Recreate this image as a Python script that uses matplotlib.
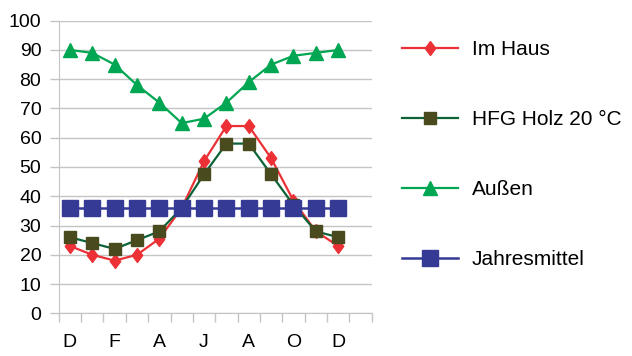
import matplotlib.pyplot as plt
import numpy as np

# Monate (Dezember bis Dezember)
monate = ['D', 'J', 'F', 'M', 'A', 'M', 'J', 'J', 'A', 'S', 'O', 'N', 'D']

# Relative Luftfeuchte (%)
im_haus = [23, 20, 18, 20, 25.5, 36, 52, 64, 64, 53, 38.5, 28, 23]
hfg_holz = [26, 24, 22, 25, 28, 36, 47.5, 58, 58, 47.5, 37, 28, 26]
aussen = [90, 89, 85, 78, 72, 65, 66.5, 72, 79, 85, 88, 89, 90]
jahresmittel = [36] * 13

plt.rcParams['font.family'] = ['Liberation Sans', 'DejaVu Sans']

fig = plt.figure(figsize=(6.32, 3.56), dpi=100)
ax = fig.add_axes([0.0929, 0.1199, 0.4953, 0.822])

x = np.arange(len(monate))
raute = [(0, 1), (0.75, 0), (0, -1), (-0.75, 0), (0, 1)]

ax.plot(x, im_haus, color='#EC3136', lw=1.6, marker=raute, ms=10,
        mec='#EC3136', mfc='#EC3136', label='Im Haus', zorder=3)
ax.plot(x, hfg_holz, color='#0B6236', lw=1.6, marker='s', ms=8.6,
        mec='#4A4A1F', mfc='#4A4A1F', label='HFG Holz 20 °C', zorder=3)
ax.plot(x, aussen, color='#00A651', lw=1.6, marker='^', ms=10,
        mec='#00A651', mfc='#00A651', label='Außen', zorder=3)
ax.plot(x, jahresmittel, color='#353A95', lw=1.8, marker='s', ms=12,
        mec='#353A95', mfc='#353A95', label='Jahresmittel', zorder=4)

grau = '#C4C4C4'
ax.set_xlim(-0.5, 13.5)
ax.set_ylim(0, 100)
ax.set_yticks(np.arange(0, 101, 10))
ax.grid(axis='y', color=grau, lw=1)
ax.set_axisbelow(True)

ax.set_xticks(x[::2])
ax.set_xticklabels(monate[::2])
ax.set_xticks(np.arange(-0.5, 14, 1), minor=True)
ax.tick_params(axis='x', which='major', length=0, pad=15, labelsize=14)
ax.tick_params(axis='x', which='minor', length=6.5, color=grau, width=1)
ax.tick_params(axis='y', length=6.5, color=grau, width=1, pad=6, labelsize=14)

for s in ['top', 'right']:
    ax.spines[s].set_visible(False)
for s in ['left', 'bottom']:
    ax.spines[s].set_color(grau)

fig.legend(loc='center left', bbox_to_anchor=(0.636, 0.566), frameon=False,
           fontsize=15, handlelength=2.69, handletextpad=0.67,
           labelspacing=2.45, borderpad=0, borderaxespad=0)

fig.savefig('out.png', dpi=100)
